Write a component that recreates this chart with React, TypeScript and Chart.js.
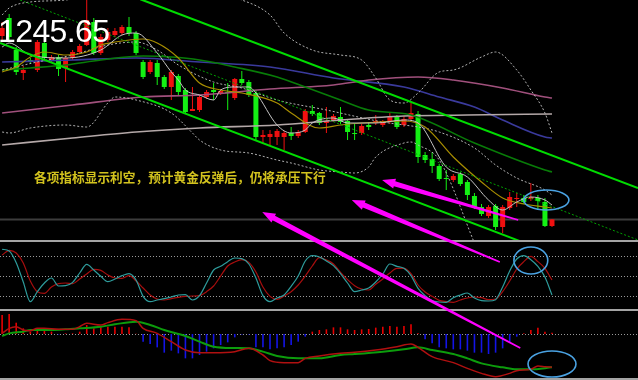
import React, { useEffect, useRef } from "react";
import { Chart, registerables } from "chart.js";

Chart.register(...registerables);

// ---------- candles (index 0..78) ----------
const opens = [
  1291.5, 1296.0, 1288.0, 1282.25, 1285.5, 1283.0, 1289.75, 1285.5, 1286.25, 1283.5,
  1286.0, 1287.5, 1289.25, 1295.0, 1287.25, 1290.5, 1291.75, 1292.25, 1293.75, 1292.25,
  1285.0, 1282.5, 1284.75, 1281.25, 1278.75, 1281.5, 1278.0, 1272.75, 1273.0, 1276.25,
  1278.0, 1277.25, 1277.5, 1276.0, 1280.75, 1280.0, 1277.25, 1266.25, 1266.25, 1266.25,
  1266.25, 1267.25, 1266.5, 1267.5, 1272.75, 1272.25, 1269.75, 1270.25, 1271.25, 1270.25,
  1267.25, 1267.25, 1269.25, 1269.75, 1269.25, 1270.0, 1271.25, 1269.25, 1270.75, 1272.0,
  1261.75, 1260.75, 1259.0, 1256.0, 1255.5, 1257.0, 1255.0, 1251.5, 1248.75, 1246.5,
  1249.0, 1243.75, 1248.5, 1250.75, 1251.0, 1250.75, 1251.0, 1250.0, 1244.0,
];
const highs = [
  1295.0, 1297.0, 1288.75, 1284.0, 1286.0, 1290.5, 1290.0, 1286.75, 1286.75, 1286.5,
  1288.0, 1289.5, 1301.75, 1296.0, 1292.0, 1293.5, 1293.5, 1294.25, 1296.25, 1292.75,
  1285.5, 1285.5, 1285.5, 1281.75, 1283.0, 1282.0, 1278.5, 1278.75, 1276.75, 1278.0,
  1279.75, 1278.25, 1279.75, 1281.0, 1282.75, 1280.5, 1277.75, 1268.0, 1268.0, 1268.25,
  1267.75, 1268.75, 1268.0, 1273.25, 1274.25, 1272.5, 1273.75, 1272.0, 1273.75, 1270.75,
  1269.5, 1269.5, 1270.0, 1271.75, 1270.5, 1272.25, 1271.75, 1271.5, 1274.75, 1272.75,
  1262.5, 1262.5, 1259.5, 1258.0, 1257.0, 1257.5, 1255.5, 1252.25, 1249.5, 1249.25,
  1249.5, 1249.25, 1252.5, 1252.25, 1251.75, 1254.75, 1251.75, 1251.0, 1245.75,
];
const lows = [
  1290.5, 1290.5, 1281.75, 1280.5, 1284.5, 1282.5, 1285.5, 1285.0, 1281.5, 1280.0,
  1285.5, 1287.0, 1289.0, 1286.75, 1286.75, 1290.0, 1291.25, 1291.75, 1291.5, 1286.75,
  1280.75, 1282.0, 1279.25, 1278.25, 1275.5, 1276.75, 1272.25, 1272.75, 1272.5, 1275.75,
  1275.5, 1276.75, 1273.0, 1275.5, 1279.25, 1276.25, 1265.5, 1264.75, 1264.25, 1264.25,
  1263.0, 1265.5, 1266.0, 1267.25, 1271.5, 1269.25, 1267.25, 1270.0, 1269.5, 1265.5,
  1265.5, 1266.75, 1268.0, 1269.25, 1268.75, 1269.5, 1268.25, 1268.75, 1270.5, 1259.75,
  1259.75, 1257.25, 1255.25, 1253.0, 1255.0, 1254.0, 1250.5, 1248.25, 1246.5, 1246.0,
  1243.0, 1242.25, 1248.0, 1248.75, 1249.5, 1250.25, 1248.0, 1243.75, 1243.75,
];
const closes = [
  1293.5, 1291.25, 1282.5, 1283.0, 1285.0, 1290.0, 1286.0, 1286.25, 1283.25, 1286.0,
  1287.5, 1289.0, 1295.5, 1287.25, 1291.25, 1292.5, 1292.75, 1293.75, 1292.25, 1287.25,
  1281.25, 1285.0, 1281.25, 1278.75, 1282.5, 1277.5, 1272.5, 1273.25, 1276.25, 1277.5,
  1277.5, 1277.75, 1277.25, 1280.75, 1279.75, 1276.75, 1266.25, 1266.75, 1267.0, 1267.75,
  1267.25, 1266.5, 1267.5, 1272.75, 1272.0, 1269.75, 1270.25, 1271.5, 1270.0, 1267.5,
  1267.0, 1269.0, 1268.75, 1270.25, 1270.0, 1271.25, 1268.75, 1270.75, 1272.25, 1261.25,
  1260.5, 1259.0, 1255.75, 1255.75, 1256.5, 1254.5, 1251.75, 1248.75, 1247.0, 1248.75,
  1243.75, 1248.75, 1251.25, 1251.0, 1250.0, 1251.25, 1250.25, 1244.0, 1245.65,
];

// ---------- moving averages / bands (candle index, price) ----------
const ma5Idx = [0, 1, 4, 9, 14, 17, 19, 22, 24, 25, 26, 28, 30, 31, 33, 35, 36, 39, 41, 43, 44, 47, 49, 53, 57, 59, 63, 66, 69, 71, 73, 75, 77, 78];
const ma5 = [1288.75, 1289.75, 1286.75, 1286.0, 1288.0, 1291.75, 1292.25, 1287.25, 1282.5, 1280.5, 1278.0, 1276.75, 1275.5, 1278.0, 1278.75, 1278.75, 1277.25, 1269.25, 1267.25, 1268.0, 1269.75, 1271.0, 1269.75, 1269.75, 1270.5, 1269.75, 1258.75, 1256.25, 1250.5, 1248.0, 1250.0, 1251.25, 1250.5, 1249.25];

const ma10Idx = [0, 2, 4, 6, 9, 12, 14, 16, 20, 22, 25, 28, 31, 34, 39, 41, 45, 48, 51, 57, 60, 64, 68, 71, 74, 77, 78];
const ma10 = [1282.5, 1283.75, 1286.25, 1287.5, 1286.75, 1287.5, 1289.25, 1290.0, 1290.75, 1289.75, 1286.0, 1279.75, 1278.0, 1277.25, 1274.75, 1272.25, 1268.5, 1269.25, 1269.75, 1270.25, 1268.75, 1261.25, 1255.0, 1251.0, 1249.5, 1248.75, 1248.5];

const ma30Idx = [0, 4, 9, 14, 20, 24, 28, 33, 39, 43, 48, 52, 58, 67, 77, 78];
const ma30 = [1283.0, 1283.5, 1284.25, 1285.5, 1286.5, 1286.25, 1285.5, 1283.75, 1281.25, 1278.75, 1275.5, 1273.0, 1271.75, 1264.75, 1258.0, 1257.5];

const ma60Idx = [0, 10, 19, 28, 38, 47, 57, 62, 67, 71, 77, 78];
const ma60 = [1285.0, 1285.5, 1286.0, 1285.0, 1283.75, 1281.0, 1278.75, 1276.25, 1273.75, 1270.5, 1266.25, 1266.0];

const ma100Idx = [0, 10, 20, 28, 38, 47, 52, 59, 64, 71, 77, 78];
const ma100 = [1272.25, 1274.25, 1276.25, 1276.75, 1278.25, 1279.25, 1280.5, 1281.25, 1280.5, 1278.5, 1276.25, 1276.0];

const ma200Idx = [0, 10, 19, 28, 39, 48, 57, 66, 78];
const ma200 = [1264.25, 1266.0, 1267.5, 1268.5, 1269.25, 1270.5, 1271.5, 1271.75, 1272.0];

const bollUpIdx = [0, 1, 4, 9, 14, 21, 28, 34, 38, 40, 44, 48, 51, 53, 55, 57, 59, 62, 64, 68, 70, 73, 75, 77, 78];
const bollUp = [1296.75, 1298.5, 1300.0, 1300.5, 1302.5, 1304.0, 1303.0, 1300.5, 1296.75, 1292.25, 1288.0, 1286.75, 1285.5, 1281.0, 1275.5, 1274.75, 1277.25, 1282.5, 1283.0, 1286.25, 1287.5, 1283.0, 1278.0, 1272.25, 1267.25];

const bollMidIdx = [0, 5, 10, 15, 19, 22, 25, 30, 34, 39, 46, 54, 57, 59, 62, 67, 70, 73, 77, 78];
const bollMid = [1283.0, 1285.0, 1286.75, 1289.25, 1290.0, 1288.0, 1284.25, 1280.0, 1278.5, 1275.5, 1273.0, 1270.0, 1269.25, 1268.75, 1267.5, 1263.5, 1259.25, 1256.0, 1253.0, 1251.75];

const bollLowIdx = [0, 1, 4, 9, 12, 15, 16, 19, 24, 27, 28, 31, 35, 39, 41, 45, 48, 50, 52, 53, 57, 58, 59, 62, 67, 70, 78];
const bollLow = [1267.5, 1267.25, 1268.5, 1269.25, 1268.75, 1274.75, 1276.25, 1275.5, 1272.25, 1267.25, 1265.5, 1263.0, 1262.25, 1260.5, 1259.75, 1258.0, 1257.5, 1257.25, 1258.75, 1261.25, 1264.75, 1265.0, 1264.25, 1260.5, 1239.75, 1227.0, 1236.25];

// trend lines (index, price) end points
const channelUpper = [[19.6, 1300.7], [90.2, 1253.5]];
const channelLower = [[-0.3, 1289.75], [76, 1238.5]];
const trendDotted = [[2.55, 1300.5], [90.2, 1240.5]];

const priceLevels = [1245.65];

// ---------- stochastic ----------
const stochK = [
  89.6, 87, 69.5, 40.5, 11, 26, 39, 46.5, 34.5, 35,
  40, 54, 67, 58.5, 49, 41, 45, 50, 53, 43.5,
  19, 11, 13.5, 15.5, 18, 21, 21.5, 13.5, 20, 39,
  58.5, 64, 71, 76.5, 75.5, 67.5, 46.5, 20, 11, 16.5,
  21, 34, 49.5, 72, 80, 78, 72, 65, 53, 39,
  26, 28.5, 31.5, 40.5, 52.5, 67.5, 64, 61, 50, 31,
  20, 12.5, 10.5, 10, 17, 21, 24, 16.5, 12.5, 12,
  14, 33, 57, 75, 80, 74, 64, 48, 21,
];
const stochD = [
  81, 88, 84, 69, 42, 26, 23.5, 33, 38, 39,
  38, 45, 52.5, 59.5, 58, 51, 46.5, 46, 50, 42,
  31.5, 21, 15, 13.5, 15.5, 17.5, 19, 19.5, 20, 26,
  34.5, 49.5, 64.5, 70.5, 74, 70, 55.5, 33, 19, 14.5,
  19.5, 26, 36, 49.5, 64.5, 77, 73.5, 67.5, 55, 44,
  35, 30, 28.5, 37, 45, 54, 61, 61, 53, 36,
  25.5, 19, 13, 11, 10, 13.5, 16.5, 18, 17, 14,
  15, 26, 42, 60, 71, 79, 71, 61, 43.5,
];
const stochLevels = [20, 50, 80];

// ---------- MACD ----------
const macdHist = [
  3.8, 4.0, 2.26, 1.13, 0.47, 1.13, 0.93, 0.47, -0.1, 0.13,
  0.13, 0.47, 1.8, 1.13, 1.33, 1.47, 1.47, 1.47, 1.33, 0.05,
  -1.53, -2.0, -2.67, -3.73, -3.33, -3.87, -4.87, -4.87, -4.2, -3.53,
  -2.87, -2.2, -1.67, -0.67, -0.1, -0.1, -2.67, -2.67, -3.07, -2.87,
  -2.67, -2.2, -1.53, -0.53, 0.47, 0.8, 0.93, 1.33, 1.33, 0.93,
  0.8, 0.93, 1.0, 1.27, 1.47, 1.6, 1.47, 1.6, 1.93, 0.13,
  -1.07, -1.87, -2.67, -2.87, -3.07, -3.07, -3.33, -3.73, -3.73, -4.0,
  -3.73, -2.87, -1.73, -0.53, 0.13, 0.8, 1.27, 0.47, 0.27,
];
const macdIdx = [0, 1, 2, 3, 4, 5, 6, 8, 10, 11, 12, 14, 15, 17, 19, 20, 22, 24, 26, 28, 30, 33, 35, 37, 38, 40, 42, 43, 45, 48, 50, 53, 56, 58, 59, 61, 64, 66, 68, 70, 72, 73, 75, 76, 77, 78];
const macdLine = [0.13, 1.13, 1.47, 0.8, 0.67, 1.13, 1.13, 0.93, 0.93, 1.47, 2.13, 1.8, 2.27, 2.93, 2.67, 1.13, 0.13, -1.53, -3.2, -3.73, -3.73, -3.53, -2.87, -4.2, -5.33, -5.73, -5.73, -4.87, -4.4, -3.87, -3.67, -3.2, -2.53, -2.0, -2.67, -4.53, -5.73, -6.87, -7.87, -8.53, -7.87, -7.33, -7.07, -6.4, -6.53, -6.67];
const signalIdx = [0, 1, 3, 4, 7, 9, 11, 14, 16, 19, 21, 23, 26, 28, 30, 33, 35, 37, 39, 42, 45, 48, 50, 54, 57, 59, 61, 64, 66, 68, 71, 73, 75, 78];
const signalLine = [-0.4, 0.13, 0.47, 0.8, 0.8, 0.93, 1.13, 1.47, 1.93, 2.47, 1.8, 0.8, -0.4, -1.53, -2.53, -2.8, -2.87, -3.53, -4.4, -4.87, -4.87, -4.2, -4.0, -3.53, -3.07, -2.67, -3.2, -4.0, -4.87, -5.87, -6.67, -7.07, -7.07, -6.67];
const macdLevels = [0];

// ---------- annotations (index, value) ----------
const arrowTails = [[73.5, 1213.5], [70.6, 1235.0], [73.2, 1245.5]];
const arrowHeads = [[36.9, 1247.5], [49.6, 1250.5], [53.9, 1255.5]];
const ellipseAxes = ["yPrice", "yStoch", "yMacd"];
const ellipseCenters = [[77.2, 1250.5], [75.0, 72.75], [78.0, -6.0]];
const ellipseRadii = [[3.2, 2.5], [2.4, 20.25], [3.4, 2.6]];

const lastPriceLabel = "1245.65";
const noteText = "各项指标显示利空，预计黄金反弹后，仍将承压下行";

const UP = "#f01010";
const DOWN = "#14f014";

function drawArrow(ctx: CanvasRenderingContext2D, x1: number, y1: number, x2: number, y2: number) {
  const dx = x2 - x1, dy = y2 - y1;
  const len = Math.hypot(dx, dy);
  const ux = dx / len, uy = dy / len;
  const nx = -uy, ny = ux;
  const headLen = 13, headHalf = 5, baseHalf = 2.6, tailHalf = 0.8;
  const bx = x2 - ux * headLen, by = y2 - uy * headLen;
  ctx.beginPath();
  ctx.moveTo(x1 + nx * tailHalf, y1 + ny * tailHalf);
  ctx.lineTo(bx + nx * baseHalf, by + ny * baseHalf);
  ctx.lineTo(bx + nx * headHalf, by + ny * headHalf);
  ctx.lineTo(x2, y2);
  ctx.lineTo(bx - nx * headHalf, by - ny * headHalf);
  ctx.lineTo(bx - nx * baseHalf, by - ny * baseHalf);
  ctx.lineTo(x1 - nx * tailHalf, y1 - ny * tailHalf);
  ctx.closePath();
  ctx.fill();
}

const panelPlugin = {
  id: "panels",
  beforeDatasetsDraw(chart: any) {
    const { ctx, chartArea, scales } = chart;
    ctx.save();
    ctx.strokeStyle = "#3c3c3c";
    ctx.lineWidth = 2;
    priceLevels.forEach((v) => {
      const y = scales.yPrice.getPixelForValue(v);
      ctx.beginPath();
      ctx.moveTo(chartArea.left, y);
      ctx.lineTo(chartArea.right, y);
      ctx.stroke();
    });
    ctx.setLineDash([1, 2]);
    ctx.strokeStyle = "#9a9a9a";
    ctx.lineWidth = 1;
    const dotted = (scale: any, levels: number[]) =>
      levels.forEach((v) => {
        const y = Math.round(scale.getPixelForValue(v)) + 0.5;
        ctx.beginPath();
        ctx.moveTo(chartArea.left, y);
        ctx.lineTo(chartArea.right, y);
        ctx.stroke();
      });
    dotted(scales.yStoch, stochLevels);
    dotted(scales.yMacd, macdLevels);
    ctx.restore();
  },
  beforeDatasetDraw(chart: any, args: any) {
    const ds = chart.data.datasets[args.index];
    const s = chart.scales[ds.yAxisID];
    const { ctx, chartArea } = chart;
    ctx.save();
    ctx.beginPath();
    ctx.rect(chartArea.left, s.top, chartArea.right - chartArea.left, s.bottom - s.top);
    ctx.clip();
  },
  afterDatasetDraw(chart: any) {
    chart.ctx.restore();
  },
  afterDatasetsDraw(chart: any) {
    const { ctx, chartArea, scales } = chart;
    ctx.save();
    ctx.fillStyle = "#a4a4a4";
    [scales.yPrice, scales.yStoch, scales.yMacd].forEach((s: any) => {
      const y = Math.min(Math.round(s.bottom), chart.height - 2);
      ctx.fillRect(chartArea.left, y, chartArea.right - chartArea.left, 2);
    });
    ctx.fillStyle = "#ff00ff";
    arrowTails.forEach((t, k) => {
      const h = arrowHeads[k];
      drawArrow(
        ctx,
        scales.x.getPixelForValue(t[0]),
        scales.yPrice.getPixelForValue(t[1]),
        scales.x.getPixelForValue(h[0]),
        scales.yPrice.getPixelForValue(h[1])
      );
    });
    ctx.strokeStyle = "#4aa2e2";
    ctx.lineWidth = 1.6;
    ellipseCenters.forEach((c, k) => {
      const ys = scales[ellipseAxes[k]];
      const cx = scales.x.getPixelForValue(c[0]);
      const cy = ys.getPixelForValue(c[1]);
      const rx = Math.abs(scales.x.getPixelForValue(c[0] + ellipseRadii[k][0]) - cx);
      const ry = Math.abs(ys.getPixelForValue(c[1] + ellipseRadii[k][1]) - cy);
      ctx.beginPath();
      ctx.ellipse(cx, cy, rx, ry, 0, 0, Math.PI * 2);
      ctx.stroke();
    });
    ctx.restore();
  },
};

export default function App() {
  const ref = useRef<HTMLCanvasElement>(null);

  useEffect(() => {
    const canvas = ref.current;
    if (!canvas) return;
    const candleColors = opens.map((o, i) => (closes[i] >= o ? UP : DOWN));
    const pts = (xs: number[], ys: number[]) => xs.map((x, k) => ({ x, y: ys[k] }));
    const seg = (p: number[][]) => p.map((q) => ({ x: q[0], y: q[1] }));
    const line = (label: string, data: any[], color: string, width: number, axis: string, extra: any = {}) => ({
      type: "line",
      label,
      data,
      borderColor: color,
      borderWidth: width,
      pointRadius: 0,
      fill: false,
      yAxisID: axis,
      tension: 0.4,
      cubicInterpolationMode: "monotone",
      order: 5,
      ...extra,
    });

    const datasets: any[] = [
      {
        type: "bar",
        label: "wicks",
        data: opens.map((_, i) => ({ x: i, y: [lows[i], highs[i]] })),
        backgroundColor: candleColors,
        barThickness: 1,
        grouped: false,
        borderWidth: 0,
        inflateAmount: 0,
        yAxisID: "yPrice",
        order: 30,
      },
      {
        type: "bar",
        label: "bodies",
        data: opens.map((o, i) => ({ x: i, y: [o, closes[i]] })),
        backgroundColor: candleColors,
        barThickness: 5,
        minBarLength: 1,
        grouped: false,
        borderWidth: 0,
        inflateAmount: 0,
        yAxisID: "yPrice",
        order: 29,
      },
      line("MA200", pts(ma200Idx, ma200), "#b4a8a8", 1.6, "yPrice", { order: 12 }),
      line("MA100", pts(ma100Idx, ma100), "#a0507c", 1.6, "yPrice", { order: 12 }),
      line("MA60", pts(ma60Idx, ma60), "#3a3a9c", 1.6, "yPrice", { order: 12 }),
      line("MA30", pts(ma30Idx, ma30), "#087c08", 1.6, "yPrice", { order: 11 }),
      line("BollUp", pts(bollUpIdx, bollUp), "#b0b0b0", 1, "yPrice", { borderDash: [2, 2], order: 10 }),
      line("BollMid", pts(bollMidIdx, bollMid), "#b0b0b0", 1, "yPrice", { borderDash: [2, 2], order: 10 }),
      line("BollLow", pts(bollLowIdx, bollLow), "#b0b0b0", 1, "yPrice", { borderDash: [2, 2], order: 10 }),
      line("MA10", pts(ma10Idx, ma10), "#a88e00", 1.2, "yPrice", { order: 8 }),
      line("MA5", pts(ma5Idx, ma5), "#c4c4c4", 1, "yPrice", { order: 7 }),
      line("TrendDotted", seg(trendDotted), "#00a000", 1, "yPrice", { borderDash: [2, 2], tension: 0, order: 6 }),
      line("ChannelUpper", seg(channelUpper), "#00dc00", 2, "yPrice", { tension: 0, order: 6 }),
      line("ChannelLower", seg(channelLower), "#00dc00", 2, "yPrice", { tension: 0, order: 6 }),
      line("%K", stochK.map((v, i) => ({ x: i, y: v })), "#2e9c9c", 1.2, "yStoch", { tension: 0, order: 4 }),
      line("%D", stochD.map((v, i) => ({ x: i, y: v })), "#a80e0e", 1.2, "yStoch", { tension: 0, order: 4 }),
      {
        type: "bar",
        label: "Hist",
        data: macdHist.map((v, i) => ({ x: i, y: v })),
        backgroundColor: macdHist.map((v) => (v >= 0 ? "#e60000" : "#1414e6")),
        barThickness: 1.6,
        grouped: false,
        borderWidth: 0,
        inflateAmount: 0,
        yAxisID: "yMacd",
        order: 20,
      },
      line("Signal", pts(signalIdx, signalLine), "#0c9c0c", 2, "yMacd", { order: 3 }),
      line("MACD", pts(macdIdx, macdLine), "#b01010", 1.5, "yMacd", { order: 2 }),
    ];

    const chart = new Chart(canvas, {
      type: "line",
      data: { datasets },
      options: {
        responsive: false,
        animation: false,
        devicePixelRatio: 1,
        events: [],
        layout: { padding: 0 },
        plugins: {
          legend: { display: false },
          tooltip: { enabled: false },
          title: { display: false },
        },
        scales: {
          x: { type: "linear", min: -0.3, max: 90.2, offset: false, display: false, bounds: "data" },
          yPrice: {
            type: "linear", position: "left", stack: "panels", stackWeight: 240, weight: 3,
            min: 1240.5, max: 1300.5, display: false, bounds: "data",
          },
          yStoch: {
            type: "linear", position: "left", stack: "panels", stackWeight: 69, weight: 2,
            min: 0, max: 103.5, display: false, bounds: "data",
          },
          yMacd: {
            type: "linear", position: "left", stack: "panels", stackWeight: 71, weight: 1,
            min: -9.2, max: 5.0, display: false, bounds: "data",
          },
        },
      } as any,
      plugins: [panelPlugin as any],
    } as any);

    return () => chart.destroy();
  }, []);

  return (
    <div
      style={{
        position: "fixed",
        left: 0,
        top: 0,
        width: 638,
        height: 380,
        background: "#000",
        overflow: "hidden",
      }}
    >
      <canvas ref={ref} width={638} height={380} style={{ display: "block", width: 638, height: 380 }} />
      <div
        style={{
          position: "absolute",
          left: -2,
          top: 15,
          color: "#ffffff",
          fontFamily: '"Liberation Sans", Arial, sans-serif',
          fontSize: 32,
          lineHeight: "32px",
          letterSpacing: "-0.6px",
          whiteSpace: "nowrap",
        }}
      >
        {lastPriceLabel}
      </div>
      <div
        style={{
          position: "absolute",
          left: 34,
          top: 170,
          color: "#d2c21e",
          fontFamily: '"Noto Sans CJK SC", sans-serif',
          fontSize: 12.7,
          fontWeight: 700,
          lineHeight: "13px",
          whiteSpace: "nowrap",
        }}
      >
        {noteText}
      </div>
    </div>
  );
}
